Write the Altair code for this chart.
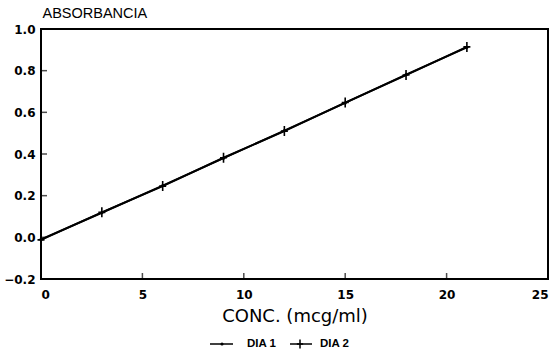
import altair as alt
import pandas as pd

# ---- data ----
conc = [0, 3, 6, 9, 12, 15, 18, 21]
dia1 = [-0.010, 0.118, 0.248, 0.380, 0.512, 0.645, 0.781, 0.912]
dia2 = [-0.012, 0.120, 0.246, 0.382, 0.510, 0.647, 0.779, 0.914]
series_names = ["DIA 1", "DIA 2"]
x_tick_values = [0, 5, 10, 15, 20, 25]
y_tick_values = [-0.2, 0.0, 0.2, 0.4, 0.6, 0.8, 1.0]
x_title = "CONC. (mcg/ml)"
y_title = "ABSORBANCIA"

df = pd.DataFrame(
    {"conc": conc * 2, "abs": dia1 + dia2,
     "serie": [series_names[0]] * len(conc) + [series_names[1]] * len(conc)}
)
xt = pd.DataFrame({"conc": x_tick_values[1:-1]})
yt = pd.DataFrame({"abs": y_tick_values[1:-1]})
leg = pd.DataFrame({"label": series_names})

LFONT = "DejaVu Sans"
TFONT = "Liberation Sans"
xs = alt.Scale(domain=[0, 25], nice=False, zero=False)
ys = alt.Scale(domain=[-0.2, 1.0], nice=False, zero=False)

xaxis = alt.Axis(values=x_tick_values, format="d", title=x_title, domain=False,
                 ticks=False, tickSize=0, grid=False, labelPadding=10,
                 labelFont=LFONT, labelFontSize=12, labelFontWeight="bold", labelColor="black",
                 titleFont=LFONT, titleFontSize=18, titleFontWeight="normal", titleColor="black",
                 titleBaseline="alphabetic", titleY=42)
yaxis = alt.Axis(values=y_tick_values, format=".1f", title=y_title, domain=False,
                 ticks=False, tickSize=0, grid=False, labelPadding=6,
                 labelFont=LFONT, labelFontSize=12, labelFontWeight="bold", labelColor="black",
                 titleFont=TFONT, titleFontSize=14.5, titleFontWeight="normal", titleColor="black",
                 titleAngle=0, titleAlign="left", titleBaseline="alphabetic",
                 titleX=1, titleY=-12)

X = alt.X("conc:Q", scale=xs, axis=xaxis)
Y = alt.Y("abs:Q", scale=ys, axis=yaxis)

base = alt.Chart(df)
line1 = base.transform_filter(alt.datum.serie == series_names[0]).mark_line(
    color="black", strokeWidth=2).encode(x=X, y=Y)
line2 = base.transform_filter(alt.datum.serie == series_names[1]).mark_line(
    color="black", strokeWidth=2).encode(x=X, y=Y)
pts1 = base.transform_filter(alt.datum.serie == series_names[0]).mark_point(
    shape="circle", filled=True, color="black", size=10, opacity=1).encode(x=X, y=Y)
CROSS = "M0,-1L0,1M-0.7,0L0.7,0"
pts2 = base.transform_filter(alt.datum.serie == series_names[1]).mark_point(
    shape=CROSS, filled=False, color="black", strokeWidth=1.6, size=100, opacity=1).encode(x=X, y=Y)

xticks = alt.Chart(xt).mark_tick(color="black", thickness=1.5, size=6, orient="vertical").encode(
    x=X, y=alt.value(247))
yticks = alt.Chart(yt).mark_tick(color="black", thickness=1.5, size=6, orient="horizontal").encode(
    y=Y, x=alt.value(3))

# legend (below the plot)
LY = 315
leg_line1 = alt.Chart(leg).transform_filter(alt.datum.label == series_names[0]).mark_rule(
    color="black", strokeWidth=1.5).encode(x=alt.value(169), x2=alt.value(192), y=alt.value(LY))
leg_dot1 = alt.Chart(leg).transform_filter(alt.datum.label == series_names[0]).mark_point(
    shape="circle", filled=True, color="black", size=10, opacity=1).encode(x=alt.value(181), y=alt.value(LY))
leg_txt1 = alt.Chart(leg).transform_filter(alt.datum.label == series_names[0]).mark_text(
    align="left", baseline="middle", font=TFONT, fontSize=11.5, fontWeight="bold", color="black").encode(
    x=alt.value(206), y=alt.value(LY), text="label:N")
leg_line2 = alt.Chart(leg).transform_filter(alt.datum.label == series_names[1]).mark_rule(
    color="black", strokeWidth=1.5).encode(x=alt.value(249), x2=alt.value(271), y=alt.value(LY))
leg_dot2 = alt.Chart(leg).transform_filter(alt.datum.label == series_names[1]).mark_point(
    shape=CROSS, filled=False, color="black", strokeWidth=1.5, size=80, opacity=1).encode(
    x=alt.value(259), y=alt.value(LY))
leg_txt2 = alt.Chart(leg).transform_filter(alt.datum.label == series_names[1]).mark_text(
    align="left", baseline="middle", font=TFONT, fontSize=11.5, fontWeight="bold", color="black").encode(
    x=alt.value(279), y=alt.value(LY), text="label:N")

chart = alt.layer(
    line1, line2, pts1, pts2, xticks, yticks,
    leg_line1, leg_dot1, leg_txt1, leg_line2, leg_dot2, leg_txt2,
).properties(
    width=507, height=250,
    autosize=alt.AutoSizeParams(type="none"),
    padding={"left": 41, "top": 29, "right": 12, "bottom": 73},
    background="white",
).configure_view(stroke="black", strokeWidth=2)

chart.save("out.html", embed_options={"renderer": "svg", "actions": False})
